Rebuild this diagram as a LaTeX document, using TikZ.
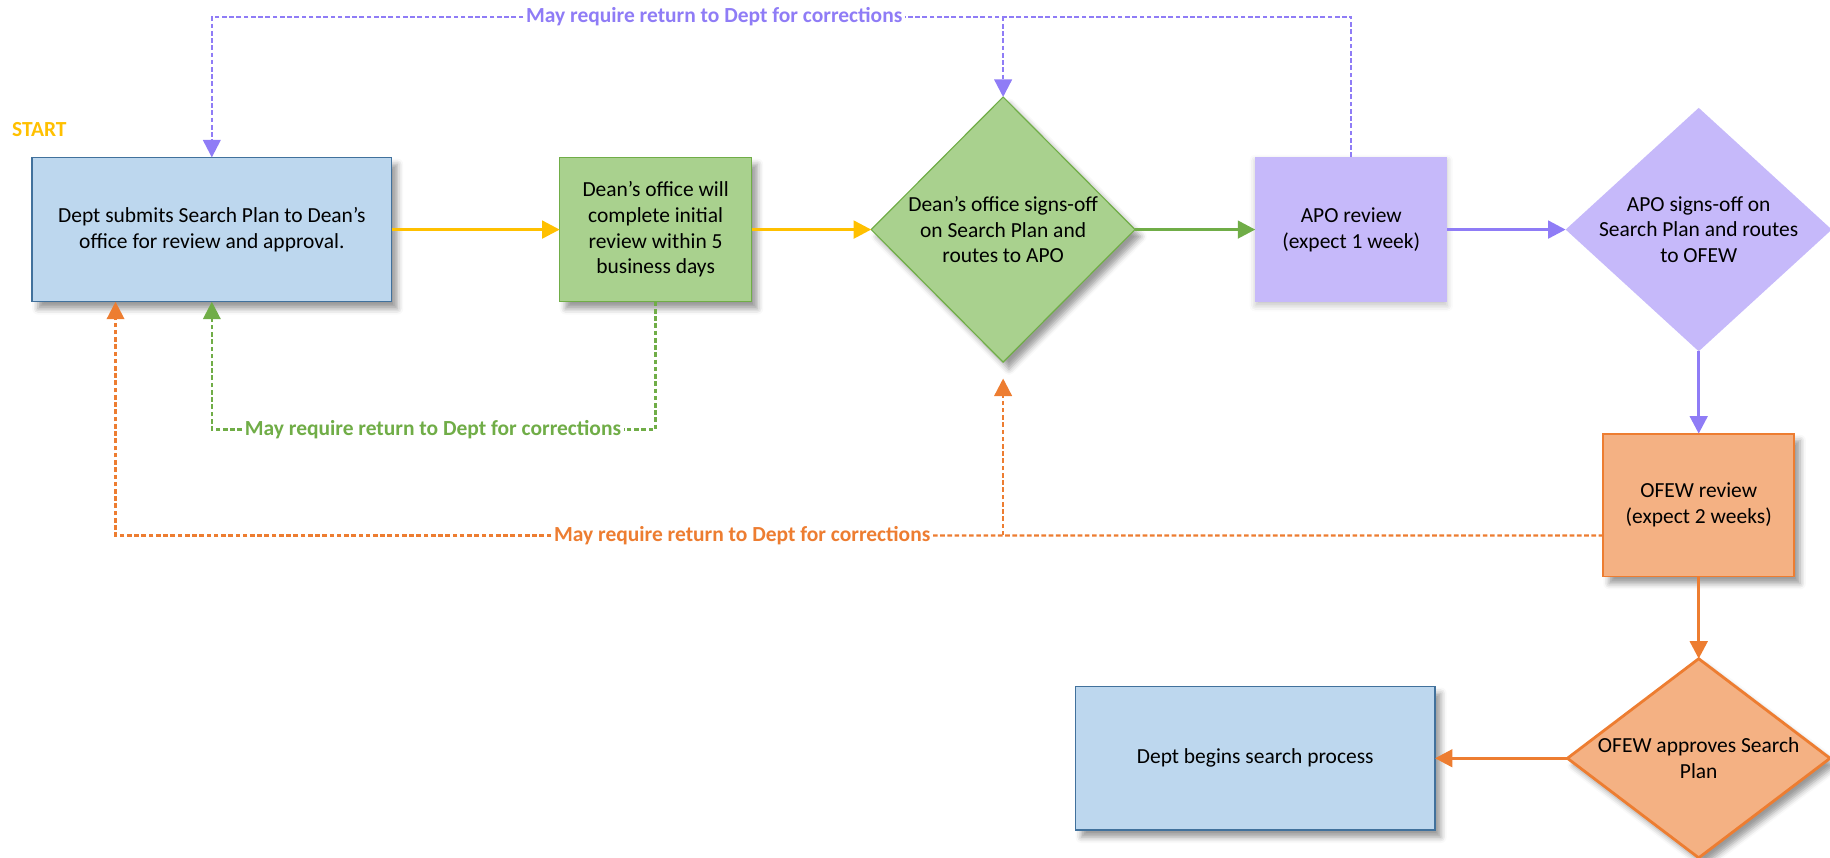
\documentclass[tikz,border=0pt]{standalone}
\usepackage{fontspec}
\setmainfont{Carlito}
\usetikzlibrary{arrows.meta,shapes,calc,shadows.blur}
\definecolor{deptblue}{HTML}{BDD7EE}
\definecolor{deptline}{HTML}{41719C}
\definecolor{deangreen}{HTML}{A9D18E}
\definecolor{greenline}{HTML}{70AD47}
\definecolor{apolav}{HTML}{C6B9FA}
\definecolor{apoline}{HTML}{8F7CF6}
\definecolor{ofewfill}{HTML}{F4B183}
\definecolor{ofewline}{HTML}{ED7D31}
\definecolor{startyel}{HTML}{FFC000}
\tikzset{shd/.style={blur shadow={shadow xshift=2.5pt,shadow yshift=-3pt,shadow blur radius=2.5pt,shadow opacity=40}}}
\tikzset{box/.style={rectangle,inner sep=0pt,outer sep=0pt,align=center,shd}}
\tikzset{dmd/.style={diamond,inner sep=0pt,outer sep=0pt}}
\tikzset{flow/.style={line width=1.35pt,-{Triangle[length=7.5pt,width=7.5pt]}}}
\tikzset{back/.style={line width=1pt,dash pattern=on 2pt off 1.1pt}}
\tikzset{backarr/.style={back,-{Triangle[length=7.5pt,width=7.5pt]}}}
\tikzset{ret/.style={font=\fontsize{9.2}{11}\selectfont\bfseries,fill=white,inner sep=1pt}}

\begin{document}
\begin{tikzpicture}[x=0.5pt,y=-0.5pt,font=\fontsize{9.2}{11}\selectfont]
\useasboundingbox (0,0) rectangle (1568,735);
\node (start) at (33.75,111.4) [text=startyel,font=\fontsize{9.2}{11}\selectfont\bfseries] {START};
% main flow
\node (submit) at (181.5,196.7) [box,fill=deptblue,draw=deptline,line width=0.6pt,minimum width=154pt,minimum height=61.8pt] {Dept submits Search Plan to Dean’s\\office for review and approval.};
\node (initial) at (561.75,196.7) [box,fill=deangreen,draw=greenline,line width=0.6pt,minimum width=82.2pt,minimum height=61.8pt] {Dean’s office will\\complete initial\\review within 5\\business days};
\node (sign) at (859.5,196.7) [dmd,fill=deangreen,draw=greenline,line width=0.5pt,minimum width=113pt,minimum height=113.6pt,shd] {};
\node (signtxt) at (sign.center) [align=center] {Dean’s office signs-off\\on Search Plan and\\routes to APO};
\node (apo) at (1157.75,196.7) [box,fill=apolav,minimum width=82.2pt,minimum height=62.2pt,blur shadow={shadow xshift=0pt,shadow yshift=-1.5pt,shadow opacity=12}] {APO review\\(expect 1 week)};
\node (aposign) at (1455.5,196.7) [dmd,fill=apolav,minimum width=114pt,minimum height=104.3pt] {};
\node (aposigntxt) at (aposign.center) [align=center] {APO signs-off on\\Search Plan and routes\\to OFEW};
\node (ofew) at (1455.5,432.75) [box,fill=ofewfill,draw=ofewline,line width=0.8pt,minimum width=81.8pt,minimum height=61.2pt] {OFEW review\\(expect 2 weeks)};
\node (ofewok) at (1455.5,649.7) [dmd,fill=ofewfill,draw=ofewline,line width=1.2pt,minimum width=112.5pt,minimum height=85.3pt,shd] {};
\node (ofewoktxt) at (ofewok.center) [align=center] {OFEW approves Search\\Plan};
\node (begin) at (1075.5,649.7) [box,fill=deptblue,draw=deptline,line width=0.6pt,minimum width=154pt,minimum height=61.6pt] {Dept begins search process};
\draw[flow,startyel] (submit.east) -- (initial.west);
\draw[flow,startyel] (initial.east) -- (sign.west);
\draw[flow,greenline] (sign.east) -- (apo.west);
\draw[flow,apoline] (apo.east) -- (aposign.west);
\draw[flow,apoline] (aposign.south) -- (ofew.north);
\draw[flow,ofewline] (ofew.south) -- (ofewok.north);
\draw[flow,ofewline] (ofewok.west) -- (begin.east);
% return loops
\node (pnote) at (612,14.3) [ret,text=apoline] {May require return to Dept for corrections};
\node (gnote) at (371,368) [ret,text=greenline] {May require return to Dept for corrections};
\node (onote) at (636,458.8) [ret,text=ofewline] {May require return to Dept for corrections};
\draw[back,apoline] (apo.north) |- (pnote.east);
\draw[backarr,apoline] (pnote.west) -| (submit.north);
\draw[backarr,apoline] (sign.north |- pnote.east) -- (sign.north);
\draw[back,greenline] (initial.south) |- (gnote.east);
\draw[backarr,greenline] (gnote.west) -| (submit.south);
\draw[back,ofewline] ([yshift=-13pt]ofew.west) -- (onote.east);
\draw[backarr,ofewline] (onote.west) -| ([xshift=-41.25pt]submit.south);
\draw[backarr,ofewline] (sign.south |- onote.east) -- ([yshift=-7pt]sign.south);
\end{tikzpicture}
\end{document}
